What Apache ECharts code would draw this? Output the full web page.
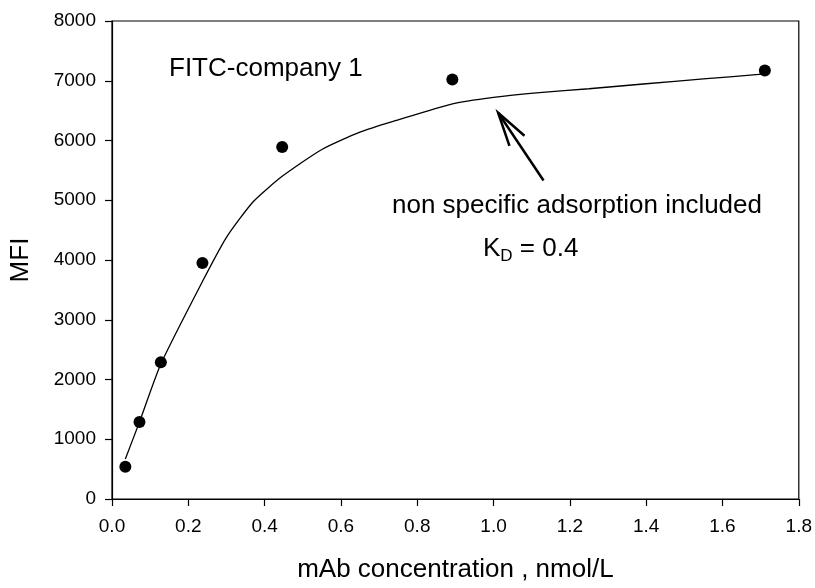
<!DOCTYPE html>
<html>
<head>
<meta charset="utf-8">
<script src="https://cdn.jsdelivr.net/npm/echarts@6/dist/echarts.min.js"></script>
<style>
  html, body { margin: 0; padding: 0; background: #fff; }
  #chart { width: 815px; height: 588px; }
</style>
</head>
<body>
<div id="chart"></div>
<script>
// measured points
const conc = [0.035, 0.072, 0.128, 0.237, 0.446, 0.892, 1.711];
const mfi = [540, 1290, 2290, 3950, 5890, 7020, 7170];

// fitted curve
const fitConc = [0.035, 0.072, 0.128, 0.237, 0.30, 0.37, 0.446, 0.55, 0.65, 0.75, 0.89, 1.0, 1.12, 1.25, 1.4, 1.55, 1.711];
const fitMfi = [670, 1290, 2260, 3640, 4380, 4975, 5400, 5850, 6140, 6345, 6610, 6720, 6800, 6866, 6950, 7030, 7115];

const xTicks = [0, 1.8, 0.2];
const yTicks = [0, 8000, 1000];

// arrow: tail and tip in data units
const arrowTail = [1.131, 5331];
const arrowTip = [1.012, 6464];

const font = 'Liberation Sans, Arial, sans-serif';
const chart = echarts.init(document.getElementById('chart'));

const option = {
  backgroundColor: '#fff',
  animation: false,
  grid: {
    left: 112, right: 14, top: 21, bottom: 85,
    show: true, borderColor: '#000', borderWidth: 1.2
  },
  xAxis: {
    type: 'value',
    min: xTicks[0], max: xTicks[1], interval: xTicks[2],
    name: 'mAb concentration , nmol/L',
    nameLocation: 'middle',
    nameGap: 58,
    nameTextStyle: { fontFamily: font, fontSize: 26, color: '#000' },
    axisLine: { lineStyle: { color: '#000', width: 1.2 } },
    axisTick: { inside: false, length: 7, lineStyle: { color: '#000', width: 1.2 } },
    axisLabel: {
      margin: 18, fontFamily: font, fontSize: 19, color: '#000',
      formatter: v => v.toFixed(1)
    },
    splitLine: { show: false }
  },
  yAxis: {
    type: 'value',
    min: yTicks[0], max: yTicks[1], interval: yTicks[2],
    name: 'MFI',
    nameLocation: 'middle',
    nameGap: 78,
    nameRotate: 90,
    nameTextStyle: { fontFamily: font, fontSize: 26, color: '#000' },
    axisLine: { lineStyle: { color: '#000', width: 1.2 } },
    axisTick: { inside: false, length: 7, lineStyle: { color: '#000', width: 1.2 } },
    axisLabel: {
      margin: 16, fontFamily: font, fontSize: 19, color: '#000',
      formatter: v => String(v)
    },
    splitLine: { show: false }
  },
  series: [
    {
      name: 'fit',
      type: 'line',
      data: fitConc.map((x, i) => [x, fitMfi[i]]),
      showSymbol: false,
      smooth: 0.2,
      lineStyle: { color: '#000', width: 1.3 }
    },
    {
      name: 'data',
      type: 'scatter',
      data: conc.map((x, i) => [x, mfi[i]]),
      symbol: 'circle',
      symbolSize: 12,
      itemStyle: { color: '#000', opacity: 1 }
    }
  ]
};

chart.setOption(option);

// annotations
const tip = chart.convertToPixel({ gridIndex: 0 }, arrowTip);
const tail = chart.convertToPixel({ gridIndex: 0 }, arrowTail);
const ang = Math.atan2(tail[1] - tip[1], tail[0] - tip[0]);
const headLen = 35, headAng = 15 * Math.PI / 180;
const h1 = [tip[0] + headLen * Math.cos(ang + headAng), tip[1] + headLen * Math.sin(ang + headAng)];
const h2 = [tip[0] + headLen * Math.cos(ang - headAng), tip[1] + headLen * Math.sin(ang - headAng)];

chart.setOption({
  graphic: [
    {
      type: 'text', left: 169, top: 56,
      style: { text: 'FITC-company 1', font: '26px ' + font, fill: '#000' }
    },
    {
      type: 'text', x: 762, y: 206,
      style: { text: 'non specific adsorption included', font: '26px ' + font, fill: '#000', align: 'right', verticalAlign: 'middle' }
    },
    {
      type: 'text', x: 483, y: 249,
      style: {
        text: '{a|K}{s|D}{a| = 0.4}',
        verticalAlign: 'middle',
        rich: {
          a: { fontFamily: font, fontSize: 26, fill: '#000' },
          s: { fontFamily: font, fontSize: 17, fill: '#000', padding: [14, 0, 0, 0] }
        }
      }
    },
    {
      type: 'polyline',
      shape: { points: [tail, tip] },
      style: { stroke: '#000', lineWidth: 2.5, fill: null }
    },
    {
      type: 'polyline',
      shape: { points: [h1, tip, h2] },
      style: { stroke: '#000', lineWidth: 2.5, fill: null }
    }
  ]
});
</script>
</body>
</html>
